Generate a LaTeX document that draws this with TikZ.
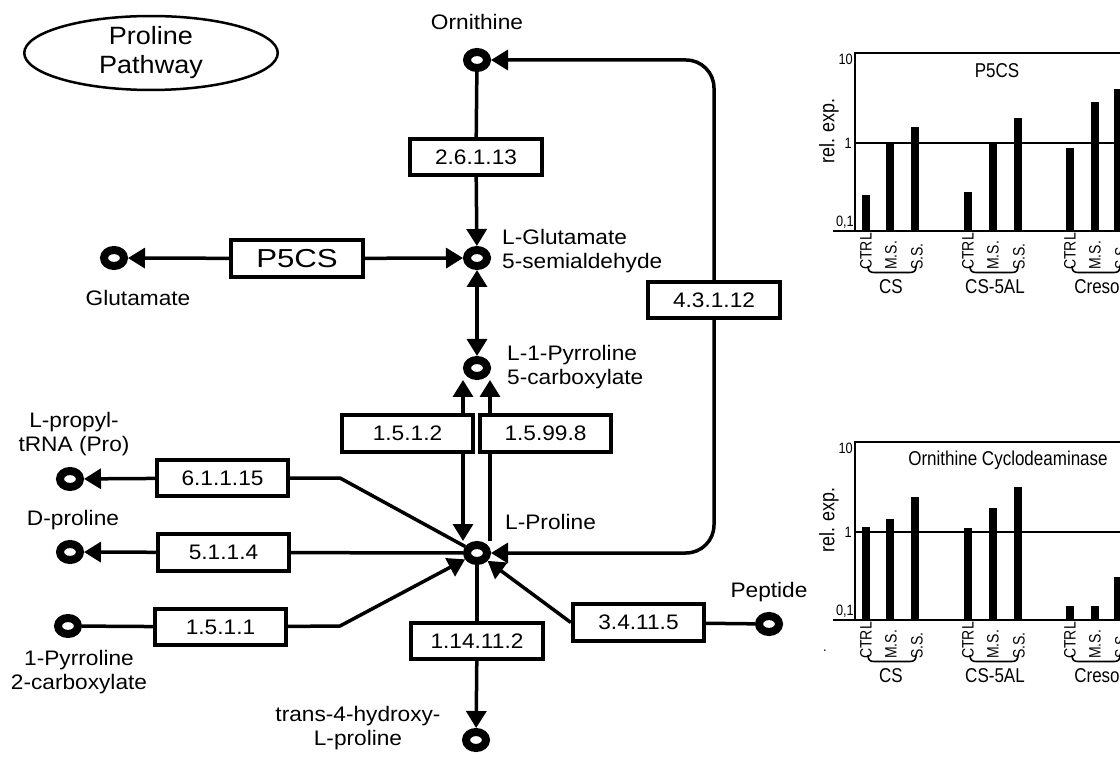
\documentclass[tikz,border=0pt]{standalone}
\usepackage{fontspec}
\setmainfont{Liberation Sans}[FakeStretch=1.08]
\newfontfamily\widefont{Liberation Sans}[FakeStretch=1.2]
\newfontfamily\chartfont{Liberation Sans}[FakeStretch=0.85]
\usetikzlibrary{arrows.meta,shapes.geometric,backgrounds}
\tikzset{
  met/.style={ellipse,draw,line width=8pt,fill=white,minimum width=20pt,minimum height=16pt,inner sep=0pt,outer sep=4pt},
  enz/.style={rectangle,draw,line width=3.8pt,fill=white,minimum width=131.5pt,minimum height=36.5pt,inner sep=0pt,outer sep=1.9pt,font=\fontsize{21}{24}\selectfont},
  lbl/.style={font=\fontsize{21}{24.5}\selectfont,inner sep=0pt,align=center},
  conn/.style={line width=3.5pt},
  arr/.style={conn,-{Triangle[length=17pt,width=20pt]}},
  dbl/.style={conn,{Triangle[length=17pt,width=20pt]}-{Triangle[length=17pt,width=20pt]}},
  axisln/.style={line width=2.2pt},
  hline/.style={line width=1.8pt},
  ticklbl/.style={font=\chartfont\fontsize{16.5}{18}\selectfont,inner sep=0pt,rotate=90,anchor=west},
  grplbl/.style={font=\chartfont\fontsize{20}{22}\selectfont,inner sep=0pt},
  numlbl/.style={font=\chartfont\fontsize{15}{17}\selectfont,inner sep=0pt},
  bracket/.style={line width=1.6pt},
}
\newcommand{\barchart}[5]{%
  \begin{scope}[shift={(0,#1)}]
    \draw[axisln] (833,231) -- (1125,231);
    \draw[axisln] (855,52) -- (855,231);
    \draw[hline] (855,53) -- (1125,53);
    \draw[hline] (855,143) -- (1125,143);
    \foreach \x/\t in {#2} { \fill (\x-3.6,230) rectangle (\x+3.6,\t); }
    \foreach \g/\n in {866/a,968/b,1070/c} {
      \node[ticklbl] (#4ctrl\n) at (\g,270) {CTRL};
      \node[ticklbl] (#4ms\n) at (\g+25,270) {M.S.};
      \node[ticklbl] (#4ss\n) at (\g+51,270) {S.S.};
      \draw[bracket] (\g+2,266) .. controls (\g+2,271) and (\g+4,272.5) .. (\g+8,272.5) -- (\g+44,272.5) .. controls (\g+48,272.5) and (\g+50,271) .. (\g+50,266);
    }
    \node[grplbl] (#4cs) at (891,287) {CS};
    \node[grplbl] (#4al) at (995,287) {CS-5AL};
    \node[grplbl] (#4cr) at (1097,287) {Creso};
    \node[numlbl,anchor=east] (#4ten) at (853,59) {10};
    \node[numlbl,anchor=east] (#4one) at (852,143) {1};
    \node[numlbl,anchor=south east] (#4tenth) at (854,229) {0,1};
    \node[font=\chartfont\fontsize{21}{23}\selectfont,inner sep=0pt,rotate=90] (#4rel) at (829,131) {rel. exp.};
    \node[font=\chartfont\fontsize{20}{22}\selectfont,inner sep=0pt] (#4title) at (#5,71) {#3};
  \end{scope}}

\begin{document}
\begin{tikzpicture}[x=1pt,y=-1pt]
\useasboundingbox (0,0) rectangle (1120,759);
\clip (0,0) rectangle (1120,759);

% title
\node[ellipse,draw,line width=2.5pt,minimum width=253.5pt,minimum height=73.5pt,inner sep=0pt,
      font=\fontsize{25}{29}\selectfont,align=center] (title) at (151,53) {Proline\\Pathway};

% metabolites
\node[met] (orn)  at (477,60) {};
\node[met] (gsa)  at (477,258) {};
\node[met] (p5c)  at (477,368) {};
\node[met] (pro)  at (477,553) {};
\node[met] (glu)  at (114,258) {};
\node[met] (trna) at (70,479) {};
\node[met] (dpro) at (70,552) {};
\node[met] (p2c)  at (68,626) {};
\node[met] (hyp)  at (476,740) {};
\node[met] (pep)  at (769,624) {};

% enzymes
\node[enz] (b26113)  at (476,157) {2.6.1.13};
\node[enz,font=\widefont\fontsize{26}{28}\selectfont] (bp5cs) at (297,258.5) {P5CS};
\node[enz] (b43112)  at (714,300) {4.3.1.12};
\node[enz] (b1512)   at (407.5,433.5) {1.5.1.2};
\node[enz] (b15998)  at (545.5,433.5) {1.5.99.8};
\node[enz] (b61115)  at (222.5,478) {6.1.1.15};
\node[enz] (b5114)   at (223.5,552.5) {5.1.1.4};
\node[enz] (b1511)   at (220.5,627) {1.5.1.1};
\node[enz] (b114112) at (477,641) {1.14.11.2};
\node[enz] (b34115)  at (638.5,622.5) {3.4.11.5};

% labels
\node[lbl] (lorn) at (477,22) {Ornithine};
\node[lbl,anchor=west,align=left] (lgsa) at (502,251) {L-Glutamate\\5-semialdehyde};
\node[lbl] (lglu) at (138,298) {Glutamate};
\node[lbl,anchor=west,align=left] (lp5c) at (507,367) {L-1-Pyrroline\\5-carboxylate};
\node[lbl,anchor=west] (lpro) at (505,522) {L-Proline};
\node[lbl] (ltrna) at (74,434) {L-propyl-\\tRNA (Pro)};
\node[lbl] (ldpro) at (73,520) {D-proline};
\node[lbl] (lp2c) at (79,672) {1-Pyrroline\\2-carboxylate};
\node[lbl] (lhyp) at (358,728) {trans-4-hydroxy-\\L-proline};
\node[lbl] (lpep) at (769,592) {Peptide};

\coordinate (k1) at (340,478);
\coordinate (k2) at (340,626);

% connectors
\begin{scope}[on background layer]
  \draw[conn] (orn) -- (b26113);
  \draw[arr] (b26113) -- (gsa);
  \draw[arr] (bp5cs) -- (glu);
  \draw[arr] (bp5cs) -- (gsa);
  \draw[dbl] (gsa) -- (p5c);
  \draw[dbl] ([xshift=-14pt]p5c.south) -- ([xshift=-14pt]pro.north);
  \draw[arr] ([xshift=13pt]pro.north) -- ([xshift=13pt]p5c.south);
  \draw[arr,rounded corners=28pt] (b43112.north) |- (orn);
  \draw[arr,rounded corners=28pt] (b43112.south) |- (pro);
  \draw[arr] (b61115) -- (trna);
  \draw[conn] (pro) -- (k1) -- (b61115);
  \draw[conn] (pro) -- (b5114);
  \draw[arr] (b5114) -- (dpro);
  \draw[conn] (p2c) -- (b1511);
  \draw[arr] (b1511) -- (k2) -- (pro);
  \draw[conn] (pro) -- (b114112);
  \draw[arr] (b114112) -- (hyp);
  \draw[conn] (pep) -- (b34115);
  \draw[arr] (b34115.west) -- (pro);
\end{scope}

% charts
\barchart{0}{866/195,890/143,915/127,968/192,993/143,1018/118,1070/148,1095/102,1118/89}{P5CS}{ca}{997}
\barchart{389}{866/138,890/130,915/108,968/139,993/119,1018/98,1070/217,1095/217,1118/188}{Ornithine Cyclodeaminase}{cb}{1008}
\node[font=\chartfont\fontsize{15}{17}\selectfont,inner sep=0pt] (dot) at (825,651) {.};

\end{tikzpicture}
\end{document}
